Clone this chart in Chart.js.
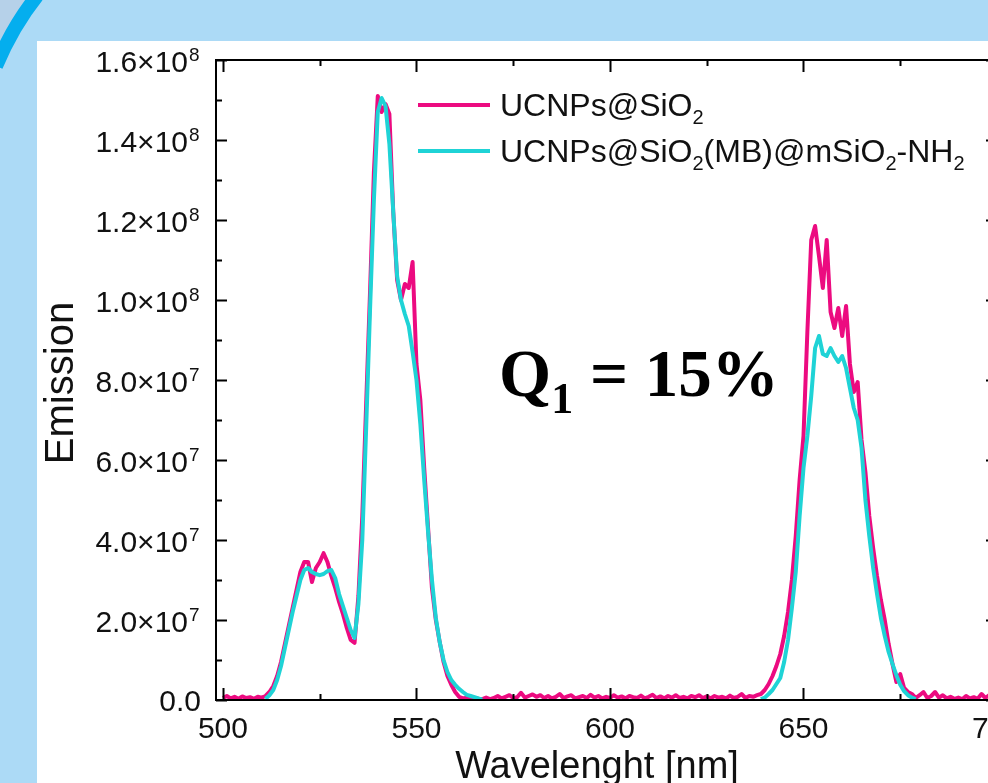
<!DOCTYPE html>
<html>
<head>
<meta charset="utf-8">
<script src="https://cdn.jsdelivr.net/npm/chart.js@4.4.0/dist/chart.umd.min.js"></script>
<style>
  html, body { margin: 0; padding: 0; width: 988px; height: 783px; overflow: hidden; background: #acdaf6; }
  #deco { position: absolute; left: 0; top: 0; }
  #panel { position: absolute; left: 37px; top: 41px; right: 0; bottom: 0; background: #fff; }
  #chart { position: absolute; left: 0; top: 0; }
  #qlabel { position: absolute; left: 499px; top: 340px; font: bold 67px "Liberation Serif", "Times New Roman", serif;
            line-height: 67px; color: #000; white-space: nowrap; }
  #qlabel sub { font-size: 44px; vertical-align: -17px; line-height: 0; }
</style>
</head>
<body>
<svg id="deco" width="988" height="783">
  <path d="M0 0 L30 0 Q9 22 0 48 Z" fill="#b6d1e9"/>
  <path d="M37 -4 Q13 26 -4 66" stroke="#04aeee" stroke-width="14" fill="none"/>
</svg>
<div id="panel"></div>
<canvas id="chart" width="1040" height="783"></canvas>
<div id="qlabel">Q<sub>1</sub> = 15%</div>
<script>
// wavelength grid, 1 nm steps
const wavelengths = Array.from({ length: 201 }, (_, i) => 500 + i);

// UCNPs@SiO2 emission, units of 1e7, 500..700 nm
const ucnpsSiO2 = [
  0.05, 0.1, 0.04, 0.08, 0.03, 0.09, 0.05, 0.07, 0.03, 0.08,     // 500
  0.06, 0.1, 0.2, 0.35, 0.6, 0.95, 1.4, 1.85, 2.3, 2.75,          // 510
  3.2, 3.45, 3.45, 2.95, 3.3, 3.45, 3.67, 3.45, 3.1, 2.8,         // 520
  2.45, 2.15, 1.8, 1.5, 1.43, 2.6, 4.6, 7.4, 10.2, 13.2,          // 530
  15.1, 14.7, 14.9, 14.65, 12.2, 10.5, 10.0, 10.4, 10.3, 10.95,   // 540
  8.4, 7.5, 5.8, 4.3, 2.8, 2.0, 1.45, 0.95, 0.6, 0.38,            // 550
  0.2, 0.08, 0.04, 0.06, 0.02, 0.05, 0.03, 0.02, 0.06, 0.02,      // 560
  0.05, 0.1, 0.04, 0.08, 0.12, 0.05, 0.07, 0.18, 0.06, 0.1,       // 570
  0.14, 0.08, 0.12, 0.05, 0.1, 0.04, 0.08, 0.15, 0.05, 0.09,      // 580
  0.12, 0.04, 0.07, 0.1, 0.05, 0.13, 0.06, 0.1, 0.04, 0.08,       // 590
  0.05, 0.12, 0.06, 0.09, 0.04, 0.1, 0.07, 0.05, 0.11, 0.04,      // 600
  0.08, 0.13, 0.05, 0.09, 0.04, 0.1, 0.06, 0.12, 0.05, 0.08,      // 610
  0.04, 0.1, 0.07, 0.12, 0.05, 0.09, 0.04, 0.1, 0.06, 0.08,       // 620
  0.04, 0.11, 0.05, 0.08, 0.15, 0.05, 0.1, 0.08, 0.12, 0.15,      // 630
  0.25, 0.4, 0.6, 0.85, 1.15, 1.6, 2.2, 3.0, 4.1, 5.5,            // 640
  6.6, 9.2, 11.5, 11.85, 11.1, 10.3, 11.5, 9.7, 9.3, 9.8,         // 650
  9.1, 9.85, 8.4, 7.7, 7.95, 6.5, 5.7, 4.6, 3.8, 3.1,             // 660
  2.5, 2.0, 1.4, 0.9, 0.45, 0.65, 0.3, 0.2, 0.15, 0.05,           // 670
  0.12, 0.2, 0.05, 0.1, 0.2, 0.06, 0.12, 0.04, 0.08, 0.03,        // 680
  0.06, 0.02, 0.1, 0.04, 0.07, 0.03, 0.15, 0.05, 0.12, 0.06,      // 690
  0.1                                                             // 700
];

// UCNPs@SiO2(MB)@mSiO2-NH2 emission, units of 1e7, two bands
const mbGreenStart = 511;
const mbGreenBand = [
  0.03, 0.12, 0.25, 0.5, 0.85, 1.3, 1.75, 2.2, 2.6,               // 511
  3.0, 3.25, 3.3, 3.2, 3.15, 3.12, 3.15, 3.22, 3.25, 3.05,        // 520
  2.65, 2.35, 2.05, 1.75, 1.55, 2.4, 4.0, 6.8, 9.75, 12.5,        // 530
  14.7, 15.05, 14.85, 13.9, 12.2, 10.6, 10.0, 9.65, 9.35, 8.7,    // 540
  8.0, 6.9, 5.5, 4.2, 3.0, 2.05, 1.45, 1.0, 0.7, 0.5,             // 550
  0.38, 0.28, 0.2, 0.13, 0.1, 0.07, 0.04, 0.01                    // 560
];
const mbRedStart = 639;
const mbRedBand = [
  0.02,                                                           // 639
  0.06, 0.15, 0.25, 0.4, 0.55, 0.95, 1.5, 2.3, 3.2, 4.6,          // 640
  5.8, 6.6, 7.6, 8.8, 9.1, 8.65, 8.6, 8.8, 8.6, 8.45,             // 650
  8.6, 8.3, 7.8, 7.3, 7.0, 6.3, 5.0, 4.1, 3.3, 2.65,              // 660
  2.05, 1.6, 1.2, 0.9, 0.62, 0.38, 0.22, 0.12, 0.06, 0.02         // 670
];

const seriesLabels = ["UCNPs@SiO₂", "UCNPs@SiO₂(MB)@mSiO₂-NH₂"];
const xTicks = [500, 550, 600, 650, 700];
const yTicks = [0, 2e7, 4e7, 6e7, 8e7, 1e8, 1.2e8, 1.4e8, 1.6e8];
const xTitle = "Wavelenght [nm]";
const yTitle = "Emission";

const SANS = '"Liberation Sans", Arial, sans-serif';
const SUBS = "₀₁₂₃₄₅₆₇₈₉";

const redPoints = wavelengths.map((w, i) => ({ x: w, y: ucnpsSiO2[i] * 1e7 }));
const cyanPoints = [
    ...mbGreenBand.map((v, i) => ({ x: mbGreenStart + i, y: v * 1e7 })),
    { x: 600, y: null },
    ...mbRedBand.map((v, i) => ({ x: mbRedStart + i, y: v * 1e7 })),
];

// text with unicode subscript digits drawn as real subscripts
function drawRichText(ctx, text, x, y, size) {
    let cx = x;
    for (const ch of text) {
        const k = SUBS.indexOf(ch);
        if (k >= 0) {
            ctx.font = `${Math.round(size * 0.63)}px ${SANS}`;
            ctx.fillText(String(k), cx, y + size * 0.24);
            cx += ctx.measureText(String(k)).width;
        } else {
            ctx.font = `${size}px ${SANS}`;
            ctx.fillText(ch, cx, y);
            cx += ctx.measureText(ch).width;
        }
    }
}

const framePlugin = {
    id: "frame",
    afterDatasetsDraw(chart) {
        const { ctx, chartArea: a } = chart;
        const xs = chart.scales.x, ys = chart.scales.y;
        ctx.save();
        ctx.strokeStyle = "#000";
        ctx.lineWidth = 2;
        ctx.strokeRect(a.left, a.top, a.right - a.left, a.bottom - a.top);

        ctx.beginPath();
        xTicks.forEach((v, i) => {
            const px = Math.round(xs.getPixelForValue(v)) + 0.5;
            ctx.moveTo(px, a.bottom); ctx.lineTo(px, a.bottom - 12);
            ctx.moveTo(px, a.top); ctx.lineTo(px, a.top + 12);
            if (i < xTicks.length - 1) {
                const pm = Math.round(xs.getPixelForValue((v + xTicks[i + 1]) / 2)) + 0.5;
                ctx.moveTo(pm, a.bottom); ctx.lineTo(pm, a.bottom - 6);
                ctx.moveTo(pm, a.top); ctx.lineTo(pm, a.top + 6);
            }
        });
        yTicks.forEach((v, i) => {
            const py = Math.round(ys.getPixelForValue(v)) + 0.5;
            ctx.moveTo(a.left, py); ctx.lineTo(a.left + 11, py);
            ctx.moveTo(a.right, py); ctx.lineTo(a.right - 11, py);
            if (i < yTicks.length - 1) {
                const pm = Math.round(ys.getPixelForValue((v + yTicks[i + 1]) / 2)) + 0.5;
                ctx.moveTo(a.left, pm); ctx.lineTo(a.left + 6, pm);
                ctx.moveTo(a.right, pm); ctx.lineTo(a.right - 6, pm);
            }
        });
        ctx.stroke();

        // y tick labels, a×10^n
        ctx.fillStyle = "#111";
        ctx.textBaseline = "alphabetic";
        yTicks.forEach((v) => {
            const py = ys.getPixelForValue(v);
            if (v === 0) {
                ctx.font = `30px ${SANS}`;
                ctx.textAlign = "right";
                ctx.fillText("0.0", 201, py + 11);
                return;
            }
            const exp = Math.floor(Math.log10(v));
            const mant = (v / Math.pow(10, exp)).toFixed(1);
            ctx.font = `30px ${SANS}`;
            ctx.textAlign = "right";
            ctx.fillText(mant + "×10", 188, py + 12);
            ctx.font = `19px ${SANS}`;
            ctx.textAlign = "left";
            ctx.fillText(String(exp), 189, py + 1);
        });

        // axis titles
        ctx.textAlign = "center";
        ctx.font = `38px ${SANS}`;
        ctx.fillText(xTitle, 597, 778);
        ctx.save();
        ctx.font = `40px ${SANS}`;
        ctx.translate(73, 383);
        ctx.rotate(-Math.PI / 2);
        ctx.fillText(yTitle, 0, 0);
        ctx.restore();

        // legend
        chart.data.datasets.forEach((ds, i) => {
            const ly = 105 + i * 46;
            ctx.strokeStyle = ds.borderColor;
            ctx.lineWidth = 4;
            ctx.beginPath();
            ctx.moveTo(418, ly); ctx.lineTo(490, ly);
            ctx.stroke();
            ctx.fillStyle = "#111";
            ctx.textAlign = "left";
            drawRichText(ctx, ds.label, 500, ly + 11, 32);
        });
        ctx.restore();
    },
};

const ctx = document.getElementById("chart").getContext("2d");
new Chart(ctx, {
    type: "line",
    data: {
        datasets: [
            {
                label: seriesLabels[0],
                data: redPoints,
                borderColor: "#ec0b80",
                borderWidth: 4,
                borderJoinStyle: "round",
                pointRadius: 0,
                tension: 0,
                order: 2,
            },
            {
                label: seriesLabels[1],
                data: cyanPoints,
                borderColor: "#1fd3d6",
                borderWidth: 4,
                borderJoinStyle: "round",
                pointRadius: 0,
                tension: 0,
                spanGaps: false,
                order: 1,
            },
        ],
    },
    options: {
        responsive: false,
        animation: false,
        devicePixelRatio: 1,
        layout: { padding: { left: 0, top: 60, right: 43, bottom: 0 } },
        plugins: { legend: { display: false }, tooltip: { enabled: false } },
        scales: {
            x: {
                type: "linear",
                min: 498.2,
                max: 700,
                afterBuildTicks: (s) => { s.ticks = xTicks.map((v) => ({ value: v })); },
                afterFit: (s) => { s.height = 83; },
                grid: { display: false, drawTicks: false },
                border: { display: false },
                ticks: {
                    font: { family: SANS, size: 30 },
                    color: "#111",
                    padding: 12,
                    maxRotation: 0,
                    autoSkip: false,
                },
            },
            y: {
                type: "linear",
                min: 0,
                max: 1.6e8,
                afterBuildTicks: (s) => { s.ticks = yTicks.map((v) => ({ value: v })); },
                afterFit: (s) => { s.width = 216; },
                grid: { display: false },
                border: { display: false },
                ticks: { display: false },
            },
        },
    },
    plugins: [framePlugin],
});
</script>
</body>
</html>
